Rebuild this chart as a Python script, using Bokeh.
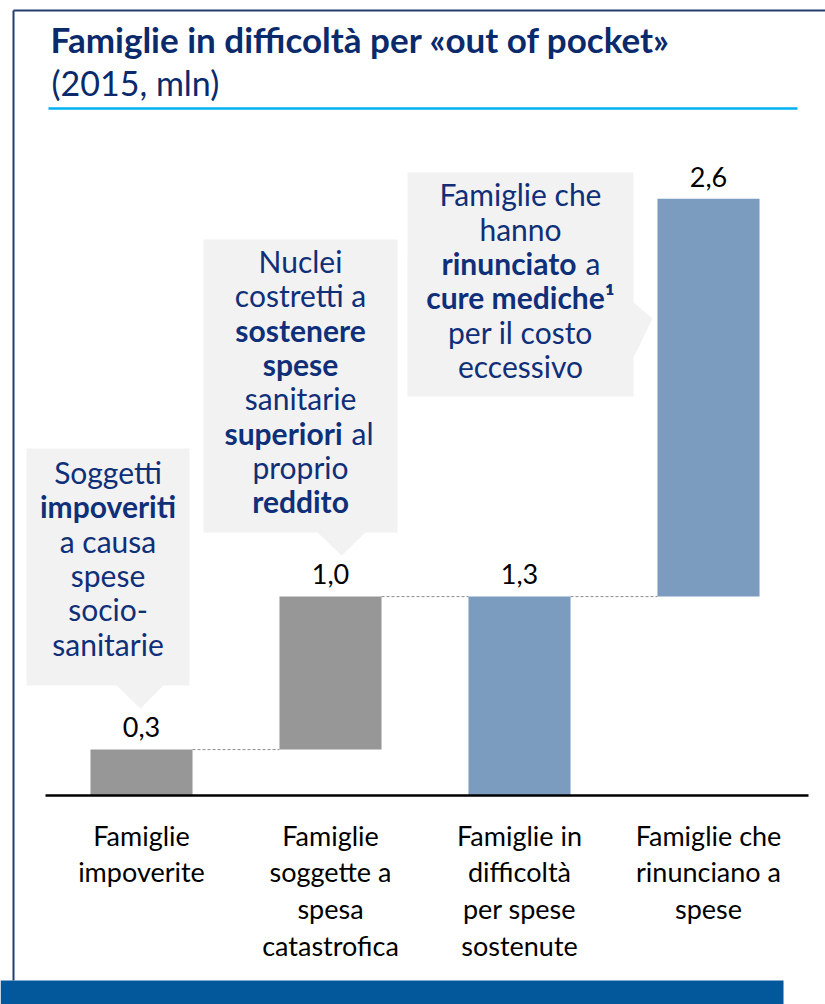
from bokeh.plotting import figure
from bokeh.models import Range1d, ColumnDataSource
from bokeh.core.properties import value
from bokeh.embed import file_html
from bokeh.resources import INLINE

# ---------------- data ----------------
title_text = "Famiglie in difficoltà per «out of pocket»"
subtitle_text = "(2015, mln)"
categories = [
    "Famiglie\nimpoverite",
    "Famiglie\nsoggette a\nspesa\ncatastrofica",
    "Famiglie in\ndifficoltà\nper spese\nsostenute",
    "Famiglie che\nrinunciano a\nspese",
]
values = [0.3, 1.0, 1.3, 2.6]
value_labels = ["0,3", "1,0", "1,3", "2,6"]
is_total = [False, False, True, False]

callout1 = [[("Soggetti", False)], [("impoveriti", True)], [("a causa", False)],
            [("spese", False)], [("socio-", False)], [("sanitarie", False)]]
callout2 = [[("Nuclei", False)], [("costretti a", False)], [("sostenere", True)],
            [("spese", True)], [("sanitarie", False)], [("superiori", True), ("al", False)],
            [("proprio", False)], [("reddito", True)]]
callout3 = [[("Famiglie che", False)], [("hanno", False)], [("rinunciato", True), ("a", False)],
            [("cure mediche¹", True)], [("per il costo", False)], [("eccessivo", False)]]

# ---------------- styles / layout ----------------
FONT = value("Lato")
NAVY = "#0A2A6C"
TXT_NAVY = "#0F2F78"
GRAY_BAR = "#979797"
BLUE_BAR = "#7B9BBF"
bar_colors = [GRAY_BAR, GRAY_BAR, BLUE_BAR, BLUE_BAR]
BOX = "#F2F2F2"

W, H = 825, 1004
PX = 153.0      # pixels per million
BASE_Y = 795    # pixel y of the zero line
X0, DX = 141.0, 189.0
SHIFT = 0.38    # baseline correction (fraction of font size)

def bl(y, size):
    return y - SHIFT * size

p = figure(width=W, height=H, x_range=Range1d(0, W), y_range=Range1d(H, 0),
           output_backend="svg", toolbar_location=None,
           x_axis_type=None, y_axis_type=None, min_border=0)
p.outline_line_color = None
p.grid.visible = False
p.background_fill_color = "white"
p.border_fill_color = "white"
p.extra_x_ranges = {"cat": Range1d(-X0 / DX, (W - X0) / DX)}
p.extra_y_ranges = {"val": Range1d(-(H - BASE_Y) / PX, BASE_Y / PX)}

# frame border lines
p.segment(x0=[13, 13], y0=[10, 10], x1=[13, W], y1=[980, 10], line_color="#243F6E", line_width=2)

# title
p.text(x=[50], y=[bl(52, 35)], text=[title_text], text_font=FONT, text_font_style="bold",
       text_font_size="35px", text_color=NAVY, text_align="left", text_baseline="alphabetic")
p.text(x=[51], y=[bl(95, 34)], text=[subtitle_text], text_font=FONT,
       text_font_size="34px", text_color=NAVY, text_align="left", text_baseline="alphabetic")
p.segment(x0=[48], y0=[108], x1=[797], y1=[108], line_color="#00B0F0", line_width=2.5)

# waterfall computation
bottoms, tops = [], []
running = 0.0
for v, tot in zip(values, is_total):
    if tot:
        bottoms.append(0.0)
        tops.append(v)
        running = v
    else:
        bottoms.append(running)
        tops.append(running + v)
        running += v
xs = list(range(len(values)))

VSIZE = 27
src = ColumnDataSource(dict(x=xs, bottom=bottoms, top=tops, color=bar_colors,
                            lab=value_labels,
                            laby=[t + (12 + SHIFT * VSIZE) / PX for t in tops]))

# callout boxes
boxes_x = [
    [26, 189, 189, 163, 140, 116, 26],
    [203, 397, 397, 365, 341, 317, 203],
    [407, 633, 633, 652, 633, 633, 407],
]
boxes_y = [
    [448, 448, 685, 685, 708, 685, 685],
    [239, 239, 532, 532, 555, 532, 532],
    [172, 172, 302, 318, 357, 396, 396],
]
p.patches(xs=boxes_x, ys=boxes_y, fill_color=BOX, line_color=None)

CS = 30
CSIZE = f"{CS}px"

def draw_callout(lines, cx, y0, dy, split_dx=0, gap=9):
    for i, segs in enumerate(lines):
        y = bl(y0 + i * dy, CS)
        if len(segs) == 1:
            t, b = segs[0]
            p.text(x=[cx], y=[y], text=[t], text_font=FONT, text_font_size=CSIZE,
                   text_font_style="bold" if b else "normal", text_color=TXT_NAVY,
                   text_align="center", text_baseline="alphabetic")
        else:
            (t1, b1), (t2, b2) = segs
            p.text(x=[cx + split_dx], y=[y], text=[t1], text_font=FONT, text_font_size=CSIZE,
                   text_font_style="bold" if b1 else "normal", text_color=TXT_NAVY,
                   text_align="right", text_baseline="alphabetic")
            p.text(x=[cx + split_dx + gap], y=[y], text=[t2], text_font=FONT, text_font_size=CSIZE,
                   text_font_style="bold" if b2 else "normal", text_color=TXT_NAVY,
                   text_align="left", text_baseline="alphabetic")

draw_callout(callout1, 107.5, 483, 34.3)
draw_callout(callout2, 300, 272, 34.3, split_dx=42)
draw_callout(callout3, 520, 205, 34.4, split_dx=56)

# bars
p.vbar(x="x", width=0.54, bottom="bottom", top="top", fill_color="color", line_color=None,
       source=src, x_range_name="cat", y_range_name="val")

# connectors
p.segment(x0=[i + 0.27 for i in xs[:-1]], x1=[i + 1 - 0.27 for i in xs[:-1]],
          y0=tops[:-1], y1=tops[:-1], line_color="#8C8C8C", line_width=1, line_dash="3 2",
          x_range_name="cat", y_range_name="val")

# zero line
p.segment(x0=[45], x1=[808], y0=[0], y1=[0], line_color="black", line_width=2.5,
          y_range_name="val")

# value labels
p.text(x="x", y="laby", text="lab", source=src, text_font=FONT, text_font_size=f"{VSIZE}px",
       text_color="black", text_align="center", text_baseline="alphabetic",
       x_range_name="cat", y_range_name="val")

# category labels (one line at a time)
LS = 27
lx, ly, lt = [], [], []
for i, c in enumerate(categories):
    for k, line in enumerate(c.split("\n")):
        lx.append(i)
        ly.append(bl(845 + 36.7 * k, LS))
        lt.append(line)
p.text(x=lx, y=ly, text=lt, text_font=FONT, text_font_size=f"{LS}px",
       text_color="black", text_align="center", text_baseline="alphabetic",
       x_range_name="cat")

# bottom banner
p.quad(left=[0], right=[783], top=[980], bottom=[H], fill_color="#03579B", line_color=None)

open("out.html", "w").write(file_html(p, INLINE))
